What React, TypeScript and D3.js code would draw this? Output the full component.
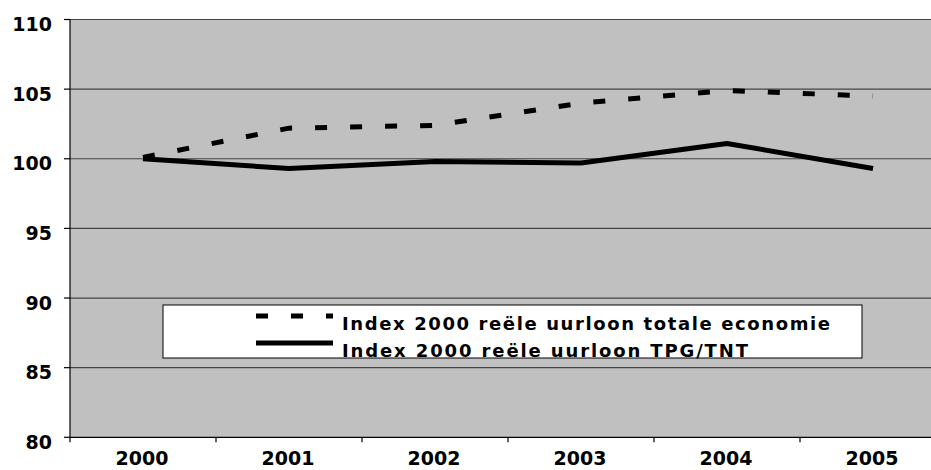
import { useEffect, useRef } from "react";
import * as d3 from "d3";

const years = ["2000", "2001", "2002", "2003", "2004", "2005"];
const totaleEconomie = [100.1, 102.2, 102.4, 104.0, 104.9, 104.5];
const tpgTnt = [100.0, 99.3, 99.8, 99.7, 101.1, 99.3];
const yTicks = [80, 85, 90, 95, 100, 105, 110];
const legendLabels = [
  "Index 2000 reële uurloon totale economie",
  "Index 2000 reële uurloon TPG/TNT",
];

export default function App() {
  const svgRef = useRef<SVGSVGElement>(null);

  useEffect(() => {
    document.body.style.margin = "0";
    if (!svgRef.current) return;
    const width = 931;
    const height = 470;
    const left = 70;
    const right = 946; // plot area runs past the crop on the right
    const top = 19.5;
    const bottom = 437.3;
    const font = "'DejaVu Sans', Verdana, sans-serif";

    const svg = d3.select(svgRef.current).attr("width", width).attr("height", height);
    svg.selectAll("*").remove();

    const x = d3.scaleBand().domain(years).range([left, right]).padding(0);
    const y = d3.scaleLinear().domain([80, 110]).range([bottom, top]);
    const cx = (d: string) => (x(d) ?? 0) + x.bandwidth() / 2;

    // plot background
    svg.append("rect")
      .attr("x", left).attr("y", top)
      .attr("width", right - left).attr("height", bottom - top)
      .attr("fill", "#c0c0c0");

    // gridlines
    svg.selectAll(".grid")
      .data(yTicks.filter((t) => t > 80))
      .enter().append("line")
      .attr("x1", left).attr("x2", right)
      .attr("y1", (d) => y(d)).attr("y2", (d) => y(d))
      .attr("stroke", "#444").attr("stroke-width", 1.2);

    // y axis
    svg.append("line")
      .attr("x1", left).attr("x2", left).attr("y1", top).attr("y2", bottom + 5)
      .attr("stroke", "#000").attr("stroke-width", 1.2);
    svg.selectAll(".ytick")
      .data(yTicks).enter().append("line")
      .attr("x1", left - 6).attr("x2", left)
      .attr("y1", (d) => y(d)).attr("y2", (d) => y(d))
      .attr("stroke", "#000").attr("stroke-width", 1.2);
    svg.selectAll(".ylabel")
      .data(yTicks).enter().append("text")
      .attr("x", 52).attr("y", (d) => y(d) + 11.5)
      .attr("text-anchor", "end")
      .attr("font-family", font).attr("font-weight", "bold").attr("font-size", 19)
      .attr("fill", "#000")
      .text((d) => d);

    // x axis
    svg.append("line")
      .attr("x1", left).attr("x2", right).attr("y1", bottom).attr("y2", bottom)
      .attr("stroke", "#000").attr("stroke-width", 1.2);
    svg.selectAll(".xtick")
      .data(years.slice(1)).enter().append("line")
      .attr("x1", (d) => x(d) ?? 0).attr("x2", (d) => x(d) ?? 0)
      .attr("y1", bottom).attr("y2", bottom + 5)
      .attr("stroke", "#000").attr("stroke-width", 1.2);
    svg.selectAll(".xlabel")
      .data(years).enter().append("text")
      .attr("x", (d) => cx(d) - 1).attr("y", 465)
      .attr("text-anchor", "middle")
      .attr("font-family", font).attr("font-weight", "bold").attr("font-size", 19)
      .attr("fill", "#000")
      .text((d) => d);

    const line = d3.line<number>()
      .x((_, i) => cx(years[i]))
      .y((d) => y(d));

    svg.append("path")
      .datum(totaleEconomie)
      .attr("d", line)
      .attr("fill", "none").attr("stroke", "#000").attr("stroke-width", 5)
      .attr("stroke-dasharray", "12,23");

    svg.append("path")
      .datum(tpgTnt)
      .attr("d", line)
      .attr("fill", "none").attr("stroke", "#000").attr("stroke-width", 5)
      .attr("stroke-linejoin", "round");

    // legend
    const lg = svg.append("g");
    lg.append("rect")
      .attr("x", 163).attr("y", 305).attr("width", 699).attr("height", 53)
      .attr("fill", "#fff").attr("stroke", "#000").attr("stroke-width", 1);
    const rowY = [316, 343];
    const textLens = [488, 406];
    legendLabels.forEach((label, i) => {
      lg.append("line")
        .attr("x1", 256).attr("x2", 333).attr("y1", rowY[i]).attr("y2", rowY[i])
        .attr("stroke", "#000").attr("stroke-width", 5)
        .attr("stroke-dasharray", i === 0 ? "12,23" : null);
      lg.append("text")
        .attr("x", 342).attr("y", rowY[i] + 14)
        .attr("font-family", font).attr("font-weight", "bold").attr("font-size", 18)
        .attr("textLength", textLens[i]).attr("lengthAdjust", "spacing")
        .attr("fill", "#000")
        .text(label);
    });
  }, []);

  return <svg ref={svgRef} style={{ display: "block" }} />;
}
